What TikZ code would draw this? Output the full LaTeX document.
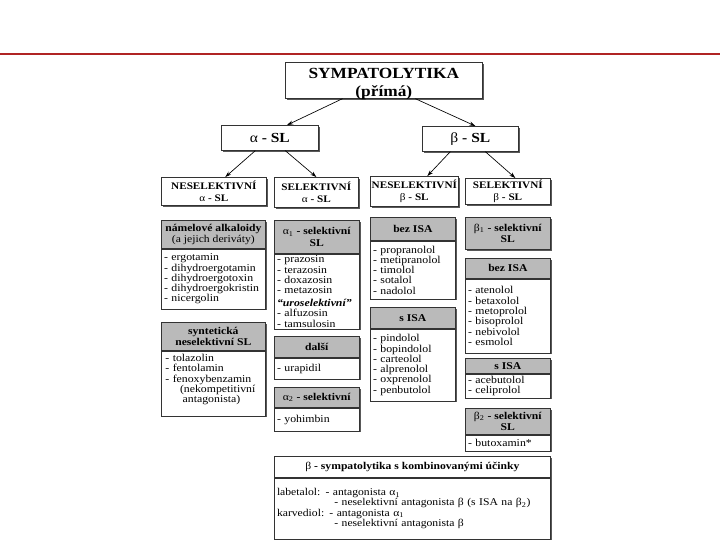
\documentclass[tikz,border=0pt]{standalone}
\usepackage{fontspec}
\setmainfont{Liberation Serif}[FakeStretch=1.12]
\usetikzlibrary{arrows.meta,shadows}
\definecolor{redline}{rgb}{0.69,0.14,0.14}
\newcommand\ttlfont{\fontsize{11.6}{13.5}\selectfont\bfseries}
\newcommand\slfont{\fontsize{10.4}{12}\selectfont}
\newcommand\catfont{\fontsize{7.5}{8.6}\selectfont}
\newcommand\hdrfont{\fontsize{7.8}{8.4}\selectfont}
\newcommand\lstfont{\fontsize{7.9}{7.7}\selectfont\hyphenpenalty=10000\exhyphenpenalty=10000}
\newcommand\cmbfont{\fontsize{7.8}{7.6}\selectfont}
\tikzset{
  box/.style={draw=black!80, line width=0.5pt, fill=white, anchor=north west, inner sep=0.5pt, align=center,
    drop shadow={shadow xshift=1.1pt, shadow yshift=-1.1pt, fill=black!65, opacity=1}},
  hdr/.style={box, fill=black!27, font=\hdrfont},
  lst/.style={box, align=left, inner xsep=2pt, inner ysep=1pt, font=\lstfont},
  arr/.style={-{Stealth[length=4.5pt,width=3pt]}, line width=0.5pt},
}
\begin{document}
\begin{tikzpicture}[x=0.75pt,y=0.75pt,yscale=-1,xscale=1]
    \path[use as bounding box] (0,0) rectangle (720,540);
    % red rule
    \draw[redline, line width=1pt] (0,54) -- (720,54);

    % Top levels
    \node[box, font=\ttlfont, minimum width=147.75pt, minimum height=27pt, text height=25pt, text depth=1pt] (top) at (285,62) {SYMPATOLYTIKA\\(přímá)};
    \node[box, font=\slfont, minimum width=72.75pt, minimum height=18.75pt] (asl) at (221,125) {α \textbf{- SL}};
    \node[box, font=\slfont, minimum width=72pt, minimum height=18.75pt] (bsl) at (422,126) {β \textbf{- SL}};
    \node[box, font=\catfont, minimum width=78.75pt, minimum height=21pt] (nsa) at (161,177) {\textbf{NESELEKTIVNÍ}\\α \textbf{- SL}};
    \node[box, font=\catfont, minimum width=63pt, minimum height=22.5pt] (sa) at (274,177) {\textbf{SELEKTIVNÍ}\\α \textbf{- SL}};
    \node[box, font=\catfont, minimum width=66pt, minimum height=22.5pt] (nsb) at (370,176) {\textbf{NESELEKTIVNÍ}\\β \textbf{- SL}};
    \node[box, font=\catfont, minimum width=63.75pt, minimum height=19.5pt] (sb) at (465,178) {\textbf{SELEKTIVNÍ}\\β \textbf{- SL}};

    % Arrows
    \draw[arr] ([xshift=-31pt]top.south) -- ([xshift=13pt]asl.north);
    \draw[arr] ([xshift=23.6pt]top.south) -- ([xshift=3.75pt]bsl.north);
    \draw[arr] ([xshift=-10.9pt]asl.south) -- ([xshift=8.6pt]nsa.north);
    \draw[arr] ([xshift=11.6pt]asl.south) -- (sa.north);
    \draw[arr] ([xshift=-15pt]bsl.south) -- ([xshift=9.75pt]nsb.north);
    \draw[arr] ([xshift=11.25pt]bsl.south) -- ([xshift=5.6pt]sb.north);

    % Neselektivni alfa
    \node[hdr, minimum width=78pt, minimum height=21pt] (alkh) at (161,220) {\textbf{námelové alkaloidy}\\(a jejich deriváty)};
    \node[lst, text width=74pt, minimum height=45pt] (alkb) at (alkh.south west) {- ergotamin\\- dihydroergotamin\\- dihydroergotoxin\\- dihydroergokristin\\- nicergolin};
    \node[hdr, minimum width=78pt, minimum height=21pt] (synh) at (161,322) {\textbf{syntetická}\\\textbf{neselektivní SL}};
    \node[lst, text width=72pt, inner xsep=3pt, minimum height=48.75pt] (synb) at (synh.south west) {- tolazolin\\- fentolamin\\- fenoxybenzamin\\\hspace*{11pt}(nekompetitivní\\\hspace*{13pt}antagonista)\\\mbox{}};

    % Selektivni alfa
    \node[hdr, minimum width=63.75pt, minimum height=24.75pt] (a1h) at (274,220) {α\textsubscript{1} \textbf{- selektivní}\\\textbf{SL}};
    \node[lst, text width=59.75pt, minimum height=56.25pt] (a1b) at (a1h.south west) {- prazosin\\- terazosin\\- doxazosin\\- metazosin\\[2pt]\textbf{\textit{“uroselektivní”}}\\- alfuzosin\\- tamsulosin};
    \node[hdr, minimum width=63.75pt, minimum height=15.75pt] (dalh) at (274,336) {\textbf{další}};
    \node[lst, text width=59.75pt, minimum height=15.75pt] (dalb) at (dalh.south west) {- urapidil};
    \node[hdr, minimum width=63.75pt, minimum height=15pt] (a2h) at (274,387) {α\textsubscript{2} \textbf{- selektivní}};
    \node[lst, text width=59.75pt, minimum height=17.25pt] (a2b) at (a2h.south west) {- yohimbin};

    % Neselektivni beta
    \node[hdr, minimum width=63.75pt, minimum height=17.25pt] (bez1h) at (370,217) {\textbf{bez ISA}};
    \node[lst, text width=59.75pt, minimum height=43.5pt] (bez1b) at (bez1h.south west) {- propranolol\\- metipranolol\\- timolol\\- sotalol\\- nadolol};
    \node[hdr, minimum width=63.75pt, minimum height=15.75pt] (sisa1h) at (370,307) {\textbf{s ISA}};
    \node[lst, text width=59.75pt, minimum height=54pt] (sisa1b) at (sisa1h.south west) {- pindolol\\- bopindolol\\- carteolol\\- alprenolol\\- oxprenolol\\- penbutolol};

    % Selektivni beta
    \node[hdr, minimum width=63.75pt, minimum height=24pt] (b1) at (465,217) {β\textsubscript{1} \textbf{- selektivní}\\\textbf{SL}};
    \node[hdr, minimum width=63.75pt, minimum height=15pt] (bez2h) at (465,258) {\textbf{bez ISA}};
    \node[lst, text width=59.75pt, minimum height=55.5pt] (bez2b) at (bez2h.south west) {- atenolol\\- betaxolol\\- metoprolol\\- bisoprolol\\- nebivolol\\- esmolol};
    \node[hdr, minimum width=63.75pt, minimum height=11.25pt] (sisa2h) at (465,358) {\textbf{s ISA}};
    \node[lst, text width=59.75pt, minimum height=18pt] (sisa2b) at (sisa2h.south west) {- acebutolol\\- celiprolol};
    \node[hdr, minimum width=63.75pt, minimum height=19.5pt] (b2h) at (465,408) {β\textsubscript{2} \textbf{- selektivní}\\\textbf{SL}};
    \node[lst, text width=59.75pt, minimum height=12pt] (b2b) at (b2h.south west) {- butoxamin*};

    % Kombinovane ucinky
    \node[box, font=\hdrfont, minimum width=207pt, minimum height=15.75pt] (combh) at (274,456) {β \textbf{- sympatolytika s kombinovanými účinky}};
    \node[lst, font=\cmbfont, text width=203pt, minimum height=45.75pt] (combb) at (combh.south west) {labetalol: - antagonista α\textsubscript{1}\\
      \hspace*{43pt}- neselektivní antagonista β (s ISA na β\textsubscript{2})\\
      karvediol: - antagonista α\textsubscript{1}\\
      \hspace*{43pt}- neselektivní antagonista β};

\end{tikzpicture}
\end{document}
